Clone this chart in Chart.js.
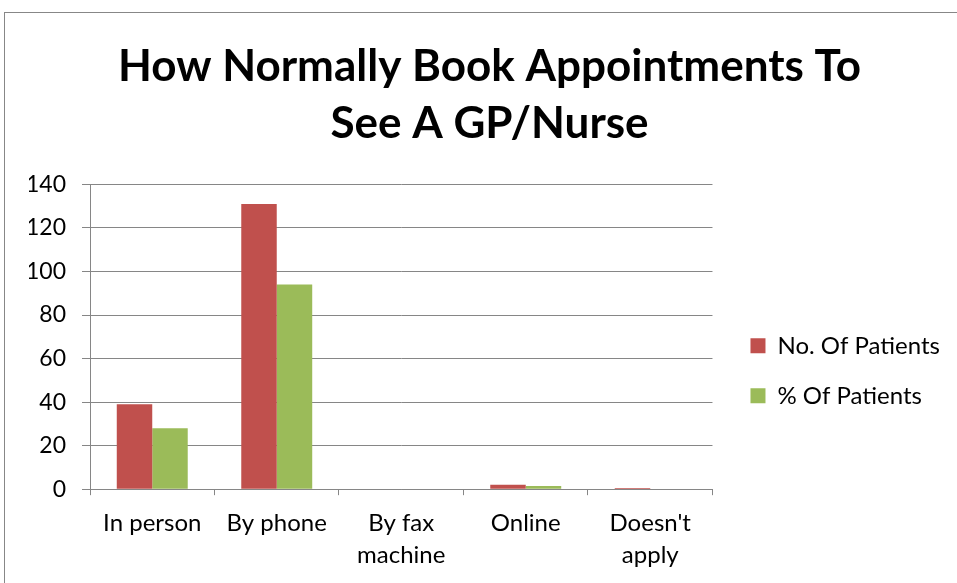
<!DOCTYPE html>
<html>
<head>
<meta charset="utf-8">
<script src="https://cdn.jsdelivr.net/npm/chart.js@4"></script>
<style>
  body { margin: 0; background: #fff; }
  #wrap { position: relative; width: 957px; height: 583px; overflow: hidden; }
  #frame { position: absolute; left: 4px; top: 12px; width: 1000px; height: 1000px; border: 1px solid #878787; }
  #Chart { position: absolute; left: 0; top: 0; }
</style>
</head>
<body>
<div id="wrap">
  <div id="frame"></div>
  <canvas id="Chart" width="957" height="583"></canvas>
</div>
<script>
var categories = ['In person', 'By phone', ['By fax', 'machine'], 'Online', ["Doesn't", 'apply']];
var patientCounts = [39, 131, 0, 2, 0.5];
var patientPercents = [28, 94, 0, 1.4, 0];
var yTicks = [0, 20, 40, 60, 80, 100, 120, 140];

var font = 'Lato';
var gridGray = '#868686';

function drawChart() {
  var ctx = document.getElementById('Chart').getContext('2d');
  return new Chart(ctx, {
    type: 'bar',
    data: {
      labels: categories,
      datasets: [{
        label: 'No. Of Patients',
        data: patientCounts,
        backgroundColor: '#C0504D',
        borderWidth: 0
      }, {
        label: '% Of Patients',
        data: patientPercents,
        backgroundColor: '#9BBB59',
        borderWidth: 0
      }]
    },
    options: {
      responsive: false,
      animation: false,
      categoryPercentage: 0.57,
      barPercentage: 1,
      layout: {
        padding: { left: 29, right: 7, top: 0, bottom: 0 }
      },
      plugins: {
        title: {
          display: true,
          text: ['How Normally Book Appointments To', 'See A GP/Nurse'],
          color: '#000',
          font: { family: font, size: 44, weight: 'bold', lineHeight: 1.3 },
          padding: { top: 38, bottom: 32 }
        },
        legend: {
          position: 'right',
          fullSize: false,
          maxWidth: 320,
          title: { display: true, text: ' ', font: { size: 10, lineHeight: 1 }, padding: { top: 58, bottom: 0 } },
          labels: {
            boxWidth: 15,
            boxHeight: 15,
            padding: 26,
            color: '#000',
            font: { family: font, size: 24 }
          }
        },
        tooltip: { enabled: false }
      },
      scales: {
        x: {
          grid: {
            offset: true,
            drawOnChartArea: false,
            tickLength: 6,
            color: gridGray
          },
          border: { color: gridGray },
          ticks: {
            color: '#000',
            padding: 12,
            maxRotation: 0,
            font: { family: font, size: 24, lineHeight: 1.33 }
          }
        },
        y: {
          min: 0,
          max: 140,
          afterBuildTicks: function(scale) {
            scale.ticks = yTicks.map(function(v) { return { value: v }; });
          },
          afterFit: function(scale) { scale.width = 61; },
          grid: { color: gridGray, tickLength: 8 },
          border: { color: gridGray },
          ticks: {
            color: '#000',
            padding: 16,
            font: { family: font, size: 23 }
          }
        },
        // empty spacer between plot and legend
        y2: {
          type: 'linear',
          position: 'right',
          grid: { display: false },
          border: { display: false },
          ticks: { display: false },
          afterFit: function(scale) { scale.width = 12; }
        }
      }
    }
  });
}

var bookingChart;
Promise.all([
  document.fonts.load('24px Lato'),
  document.fonts.load('bold 44px Lato')
]).then(function() {
  bookingChart = drawChart();
}, function() {
  bookingChart = drawChart();
});
</script>
</body>
</html>
